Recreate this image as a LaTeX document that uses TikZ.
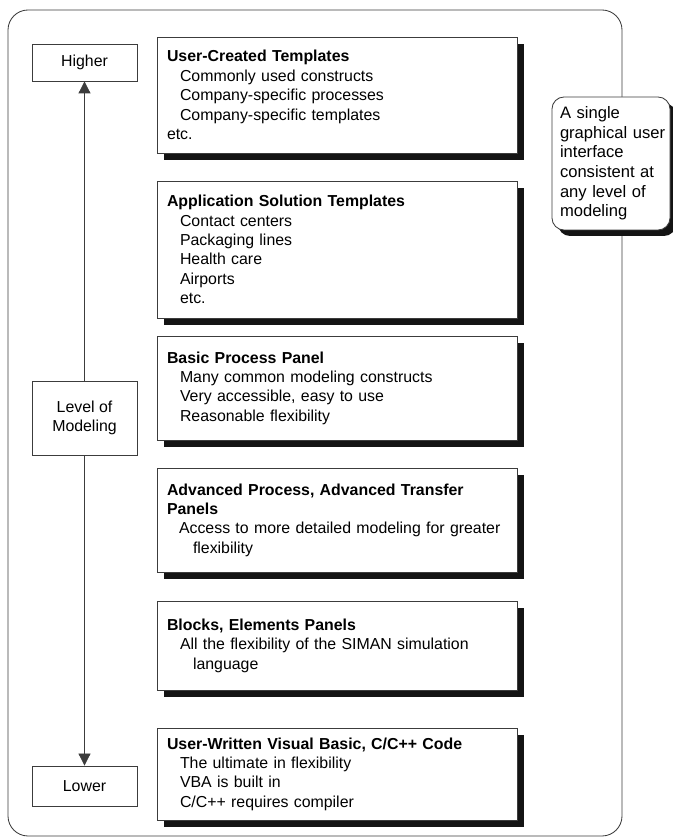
\documentclass[tikz,border=0pt]{standalone}
\usepackage{fontspec}
\setmainfont{Liberation Sans}
\usetikzlibrary{arrows.meta,shadows}
\definecolor{framegray}{RGB}{60, 60, 60}
\definecolor{shadowblack}{RGB}{20, 20, 20}
\definecolor{textblack}{RGB}{0, 0, 0}

\begin{document}
\begin{tikzpicture}[
        outerframe/.style={rectangle, rounded corners=0.5cm, draw=framegray, line width=0.6pt, minimum width=15.35cm, minimum height=20.65cm},
        levelbox/.style={rectangle, draw=framegray, line width=0.6pt, fill=white, minimum width=2.625cm, align=center, text=textblack, font=\fontsize{11.3}{13.8}\selectfont},
        panel/.style={rectangle, draw=framegray, line width=0.6pt, fill=white, text width=8.5cm, inner xsep=0.25cm, align=left, text=textblack, font=\fontsize{11.3}{13.8}\selectfont, general shadow={fill=shadowblack, shadow xshift=0.175cm, shadow yshift=-0.175cm}},
        note/.style={rectangle, rounded corners=0.3cm, draw=framegray, line width=0.6pt, fill=white, text width=2.55cm, inner xsep=0.2cm, minimum height=3.325cm, align=left, text=textblack, font=\fontsize{11.8}{14}\selectfont, general shadow={fill=shadowblack, shadow xshift=0.15cm, shadow yshift=-0.15cm}},
        levelaxis/.style={{Triangle[width=0.3cm, length=0.3cm]}-{Triangle[width=0.3cm, length=0.3cm]}, line width=0.6pt, draw=framegray}
    ]
    \useasboundingbox (0, 0) rectangle (16.825, 21);

    % Frame
    \node[outerframe] (frame) at (7.875, 10.425) {};

    % Level of modeling
    \node[levelbox, minimum height=0.925cm] (higher) at (2.1125, 19.4375) {Higher};
    \node[levelbox, minimum height=1cm] (lower) at (2.1125, 1.35) {Lower};
    \draw[levelaxis] (lower) -- (higher);
    \node[levelbox, minimum height=1.85cm] (level) at (2.1125, 10.55) {Level of\\ Modeling};

    % Panels
    \node[panel, minimum height=2.9cm] (usertemplates) at (8.425, 18.625) {\textbf{User-Created Templates}\\
        \hspace*{0.325cm}Commonly used constructs\\
        \hspace*{0.325cm}Company-specific processes\\
        \hspace*{0.325cm}Company-specific templates\\
        etc.};
    \node[panel, minimum height=3.425cm] (apptemplates) at (8.425, 14.7625) {\textbf{Application Solution Templates}\\
        \hspace*{0.325cm}Contact centers\\
        \hspace*{0.325cm}Packaging lines\\
        \hspace*{0.325cm}Health care\\
        \hspace*{0.325cm}Airports\\
        \hspace*{0.325cm}etc.};
    \node[panel, minimum height=2.6cm] (basicpanel) at (8.425, 11.3) {\textbf{Basic Process Panel}\\
        \hspace*{0.325cm}Many common modeling constructs\\
        \hspace*{0.325cm}Very accessible, easy to use\\
        \hspace*{0.325cm}Reasonable flexibility};
    \node[panel, minimum height=2.6cm] (advpanel) at (8.425, 8.0) {\textbf{Advanced Process, Advanced Transfer}\\
        \textbf{Panels}\\
        \hspace*{0.3cm}Access to more detailed modeling for greater\\
        \hspace*{0.65cm}flexibility};
    \node[panel, minimum height=2.225cm] (blockspanel) at (8.425, 4.8625) {\textbf{Blocks, Elements Panels}\\
        \hspace*{0.325cm}All the flexibility of the SIMAN simulation\\
        \hspace*{0.65cm}language};
    \node[panel, minimum height=2.3cm] (usercode) at (8.425, 1.65) {\textbf{User-Written Visual Basic, C/C++ Code}\\
        \hspace*{0.325cm}The ultimate in flexibility\\
        \hspace*{0.325cm}VBA is built in\\
        \hspace*{0.325cm}C/C++ requires compiler};

    % Note
    \node[note] (gui) at (15.275, 16.9125) {A single\\ \mbox{graphical user}\\ interface\\ \mbox{consistent at}\\ \mbox{any level of}\\ modeling};

\end{tikzpicture}
\end{document}
